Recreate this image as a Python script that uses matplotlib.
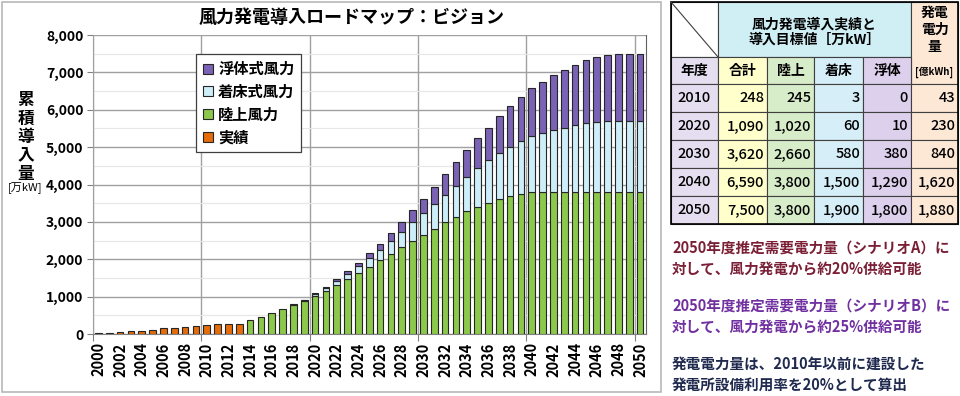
import numpy as np
import matplotlib
matplotlib.use("Agg")
import matplotlib.pyplot as plt
from matplotlib.patches import Rectangle
from matplotlib.lines import Line2D
from matplotlib.ticker import FuncFormatter, MultipleLocator

plt.rcParams['font.family'] = ['Noto Sans CJK JP', 'DejaVu Sans']

# --- chart data (万kW) ---
actual_years = list(range(2000, 2014))
actual = [14, 31, 46, 68, 93, 108, 149, 168, 188, 219, 248, 256, 264, 271]

plan_years = list(range(2014, 2051))
land = [375, 464, 553, 668, 780, 880, 1020, 1150, 1310, 1460, 1640, 1800, 1980,
        2140, 2320, 2480, 2660, 2820, 2990, 3140, 3280, 3410, 3510, 3620, 3700,
        3750, 3800, 3800, 3800, 3800, 3800, 3800, 3800, 3800, 3800, 3800, 3800]
fixed = [0, 0, 0, 0, 15, 35, 60, 90, 100, 145, 180, 240, 270, 360, 420, 510, 580,
         660, 730, 830, 930, 1020, 1140, 1210, 1310, 1410, 1500, 1570, 1650, 1720,
         1790, 1840, 1870, 1890, 1900, 1900, 1900]
floating = [0, 0, 0, 0, 0, 5, 10, 25, 55, 70, 90, 115, 160, 195, 250, 340, 380,
            465, 555, 635, 715, 805, 875, 995, 1085, 1185, 1290, 1380, 1470, 1535,
            1620, 1680, 1740, 1765, 1780, 1800, 1800]

legend_labels = ['浮体式風力', '着床式風力', '陸上風力', '実績']

# --- table data ---
table_years = [2010, 2020, 2030, 2040, 2050]
table_total = [248, 1090, 3620, 6590, 7500]
table_land = [245, 1020, 2660, 3800, 3800]
table_fixed = [3, 60, 580, 1500, 1900]
table_float = [0, 10, 380, 1290, 1800]
table_energy = [43, 230, 840, 1620, 1880]

notes = [
    ("2050年度推定需要電力量（シナリオA）に\n対して、風力発電から約20%供給可能", '#7a1f35'),
    ("2050年度推定需要電力量（シナリオB）に\n対して、風力発電から約25%供給可能", '#7030a0'),
    ("発電電力量は、2010年以前に建設した\n発電所設備利用率を20%として算出", '#1f2a4e'),
]

c_float = '#7a62b4'
c_fixed = '#cdeef8'
c_land = '#8cc84b'
c_actual = '#e46c0a'
edge = '#262626'

W, H = 960, 396
fig = plt.figure(figsize=(W / 100, H / 100), dpi=100)

ax = fig.add_axes([93 / W, 1 - 334 / H, (645.5 - 93) / W, (334 - 35) / H])
bw = 0.62

ax.bar(actual_years, actual, bw, color=c_actual, edgecolor=edge, linewidth=0.8, zorder=3)

land = np.array(land)
fixed = np.array(fixed)
floating = np.array(floating)
py = np.array(plan_years)
ax.bar(py, land, bw, color=c_land, edgecolor=edge, linewidth=0.8, zorder=3)
m = fixed > 0
ax.bar(py[m], fixed[m], bw, bottom=land[m], color=c_fixed, edgecolor=edge, linewidth=0.8, zorder=3)
m = floating > 0
ax.bar(py[m], floating[m], bw, bottom=(land + fixed)[m], color=c_float, edgecolor=edge,
       linewidth=0.8, zorder=3)

ax.set_xlim(1999.5, 2050.5)
ax.set_ylim(0, 8000)
ax.yaxis.set_major_locator(MultipleLocator(1000))
ax.yaxis.set_minor_locator(MultipleLocator(500))
ax.yaxis.set_major_formatter(FuncFormatter(lambda v, p: f'{int(v):,}'))
ax.grid(axis='y', which='major', color='#a0a0a0', linewidth=1.0, zorder=0)
ax.grid(axis='y', which='minor', color='#e6e6e6', linewidth=0.8, zorder=0)

# vertical gridlines at category boundaries every 10 years
ax.set_xticks(np.arange(1999.5, 2051, 10))
ax.set_xticklabels([])
ax.set_xticks(range(2000, 2051, 2), minor=True)
ax.set_xticklabels([str(y) for y in range(2000, 2051, 2)], minor=True, rotation=90,
                   fontsize=10.5, fontweight='bold')
ax.grid(axis='x', which='major', color='#a0a0a0', linewidth=1.0, zorder=0)
ax.tick_params(axis='x', which='major', length=5, color='#808080')
ax.tick_params(axis='x', which='minor', length=0, pad=6)
ax.tick_params(axis='y', which='major', length=4, color='#808080', labelsize=10, pad=3)
ax.tick_params(axis='y', which='minor', length=0)
for t in ax.get_yticklabels():
    t.set_fontweight('bold')
ax.spines['top'].set_visible(False)
ax.spines['left'].set_color('#a0a0a0')
ax.spines['right'].set_color('#606060')
ax.spines['bottom'].set_color('#808080')

handles = [Line2D([], [], marker='s', linestyle='none', markersize=7.5,
                  markerfacecolor=c, markeredgecolor=edge, markeredgewidth=0.8)
           for c in [c_float, c_fixed, c_land, c_actual]]
leg = ax.legend(handles, legend_labels, loc='upper left',
                bbox_to_anchor=(196 / W, 1 - 54 / H), bbox_transform=fig.transFigure,
                borderaxespad=0, fancybox=False, framealpha=1, edgecolor='#404040',
                prop={'size': 11, 'weight': 'bold'}, handlelength=0.7, handletextpad=0.3,
                labelspacing=0.45, borderpad=0.45)
leg.get_frame().set_linewidth(0.9)

# overlay in pixel coordinates
ov = fig.add_axes([0, 0, 1, 1], zorder=5)
ov.set_xlim(0, W)
ov.set_ylim(H, 0)
ov.axis('off')

ov.add_patch(Rectangle((1.5, 1.5), 659.5, 390.5, fill=False, edgecolor='#b8b8b8', linewidth=1.2))
ov.text(352, 17, '風力発電導入ロードマップ：ビジョン', ha='center', va='center',
        fontsize=13, fontweight='bold')
for i, ch in enumerate('累積導入量'):
    ov.text(26, 100 + i * 18.5, ch, ha='center', va='center', fontsize=12, fontweight='bold')
ov.text(25, 188, '[万kW]', ha='center', va='center', fontsize=8)

# table
cx = [671, 718, 767, 814, 863, 911, 958]
ry = [2, 57, 84, 112, 140, 168, 196, 224]
col_colors = ['#e5def0', '#ffffcc', '#d7ecc8', '#d6eef8', '#ddd0ec', '#fde8d6']


def cell(x0, x1, y0, y1, color, lw=0.8):
    ov.add_patch(Rectangle((x0, y0), x1 - x0, y1 - y0, facecolor=color,
                           edgecolor='#404040', linewidth=lw))


cell(cx[0], cx[1], ry[0], ry[1], 'white')
ov.plot([cx[0], cx[1]], [ry[0], ry[1]], color='#404040', linewidth=0.8)
cell(cx[1], cx[5], ry[0], ry[1], '#cfeff5')
ov.text((cx[1] + cx[5]) / 2, 25, '風力発電導入実績と', ha='center', va='center',
        fontsize=10, fontweight='bold')
ov.text((cx[1] + cx[5]) / 2, 40, '導入目標値［万kW］', ha='center', va='center',
        fontsize=10, fontweight='bold')
cell(cx[5], cx[6], ry[0], ry[2], col_colors[5])
for i, ch in enumerate(['発電', '電力', '量']):
    ov.text((cx[5] + cx[6]) / 2, 13 + i * 17, ch, ha='center', va='center',
            fontsize=10, fontweight='bold')
ov.text((cx[5] + cx[6]) / 2, 72, '[億kWh]', ha='center', va='center', fontsize=7, fontweight='bold')

for j, h in enumerate(['年度', '合計', '陸上', '着床', '浮体']):
    cell(cx[j], cx[j + 1], ry[1], ry[2], col_colors[j])
    ov.text((cx[j] + cx[j + 1]) / 2, (ry[1] + ry[2]) / 2, h, ha='center', va='center',
            fontsize=10, fontweight='bold')

cols = [table_total, table_land, table_fixed, table_float, table_energy]
for i, yr in enumerate(table_years):
    y0, y1 = ry[i + 2], ry[i + 3]
    cell(cx[0], cx[1], y0, y1, col_colors[0])
    ov.text((cx[0] + cx[1]) / 2, (y0 + y1) / 2, str(yr), ha='center', va='center',
            fontsize=10.5, fontweight='medium')
    for j, col in enumerate(cols):
        cell(cx[j + 1], cx[j + 2], y0, y1, col_colors[j + 1])
        ov.text(cx[j + 2] - 3, (y0 + y1) / 2, f'{col[i]:,}', ha='right', va='center',
                fontsize=10.5, fontweight='medium')
ov.add_patch(Rectangle((cx[0], ry[0]), cx[-1] - cx[0], ry[-1] - ry[0], fill=False,
                       edgecolor='black', linewidth=1.2))

# notes
for k, (txt, col) in enumerate(notes):
    ov.text(672, 258 + k * 58, txt, ha='left', va='center', fontsize=10.5,
            fontweight='bold', color=col, linespacing=1.35)

fig.savefig('out.png', dpi=100)
